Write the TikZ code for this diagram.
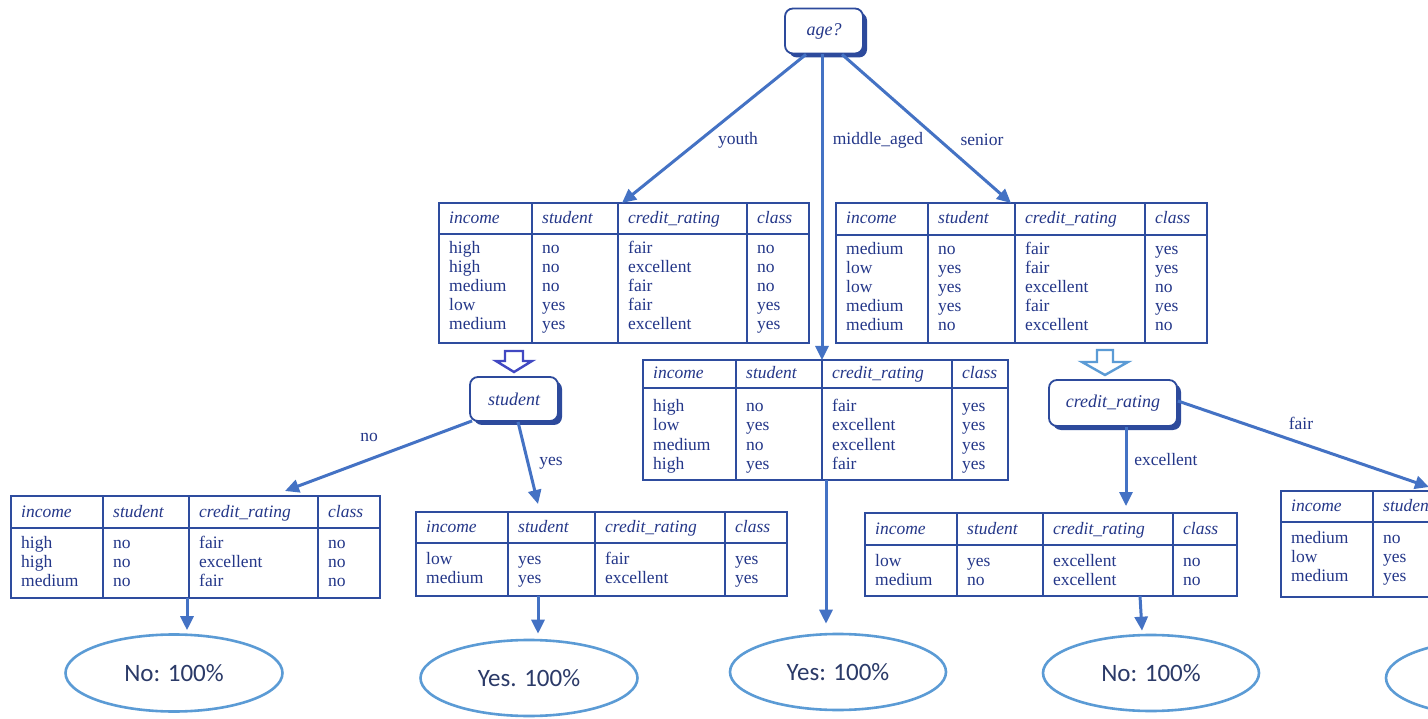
\documentclass[tikz,border=0pt]{standalone}
\usepackage{fontspec}
\setmainfont{Liberation Serif}
\newfontfamily\leaffont{Carlito}
\usetikzlibrary{calc,shadows,arrows.meta,shapes.geometric}

\definecolor{tabblue}{HTML}{2E4C9E}
\definecolor{tabtext}{HTML}{243789}
\definecolor{edgeblue}{HTML}{4472C4}
\definecolor{leafblue}{HTML}{5B9BD5}
\definecolor{leaftext}{HTML}{2B3A68}
\definecolor{shadowblue}{HTML}{2D4A9C}
\definecolor{hollowdark}{HTML}{4148C2}

\tikzset{
  tablebox/.style={draw=tabblue, line width=2.6pt, inner sep=0pt, outer sep=0pt},
  tableline/.style={draw=tabblue, line width=2pt},
  cell/.style={anchor=west, inner sep=0pt, text height=12pt, text depth=4pt,
    text=tabtext, font=\fontsize{17.5}{19}\selectfont},
  headcell/.style={cell, font=\fontsize{17.5}{19}\selectfont\itshape},
  test/.style={draw=shadowblue, line width=1.8pt, fill=white, rounded corners=8pt,
    drop shadow={shadow xshift=4pt, shadow yshift=-4pt, fill=shadowblue, opacity=1},
    text=tabtext, font=\fontsize{18}{20}\selectfont\itshape, inner sep=0pt},
  branch/.style={draw=edgeblue, line width=3pt, -{Triangle[length=14pt,width=13pt]}},
  branchlabel/.style={text=tabtext, font=\fontsize{17.5}{19}\selectfont, inner sep=0pt},
  leaf/.style={ellipse, draw=leafblue, line width=2.6pt, text=leaftext,
    font=\leaffont\fontsize{25}{28}\selectfont, inner sep=0pt},
  hollow/.style={line width=2.4pt, fill=white, line join=miter},
}

% name, x, y, width, height, header height, first row offset, column offsets, rows
\newcommand\datatable[9]{%
  \node[tablebox, minimum width=#4pt, minimum height=#5pt, anchor=north west] (#1) at (#2,#3) {};
  \draw[tableline] (#2,#3+#6) -- (#2+#4,#3+#6);
  \foreach \ca/\cb/\cc in {#8}{%
    \draw[tableline] (#2+\ca,#3) -- (#2+\ca,#3+#5);
    \draw[tableline] (#2+\cb,#3) -- (#2+\cb,#3+#5);
    \draw[tableline] (#2+\cc,#3) -- (#2+\cc,#3+#5);
    \node[headcell] (#1-h1) at (#2+10,#3+#6/2+1) {income};
    \node[headcell] (#1-h2) at (#2+\ca+10,#3+#6/2+1) {student};
    \node[headcell] (#1-h3) at (#2+\cb+10,#3+#6/2+1) {credit\_rating};
    \node[headcell] (#1-h4) at (#2+\cc+10,#3+#6/2+1) {class};
    \foreach \p/\q/\r/\s [count=\k] in {#9}{%
      \node[cell] (#1-r\k-a) at (#2+10,#3+#6+#7+19*\k-19) {\p};
      \node[cell] (#1-r\k-b) at (#2+\ca+10,#3+#6+#7+19*\k-19) {\q};
      \node[cell] (#1-r\k-c) at (#2+\cb+10,#3+#6+#7+19*\k-19) {\r};
      \node[cell] (#1-r\k-d) at (#2+\cc+10,#3+#6+#7+19*\k-19) {\s};
    }
  }
}

\begin{document}
\begin{tikzpicture}[x=1pt,y=-1pt]
\useasboundingbox (0,0) rectangle (1428,719);
\fill[white] (0,0) rectangle (1428,719);
\clip (0,0) rectangle (1428,719);

% test nodes
\node[test, minimum width=78pt, minimum height=45pt] (age) at (824,31) {age?};
\node[test, minimum width=88pt, minimum height=44pt] (student) at (514,399) {student};
\node[test, minimum width=128pt, minimum height=46pt] (credit) at (1113,403) {credit\_rating};

% partitions
\datatable{t1}{439}{203}{370}{140}{31}{16}{93/179/308}
  {high/no/fair/no, high/no/excellent/no, medium/no/fair/no, low/yes/fair/yes, medium/yes/excellent/yes}
\datatable{t2}{836}{203}{371}{140}{32}{16}{92/179/309}
  {medium/no/fair/yes, low/yes/fair/yes, low/yes/excellent/no, medium/yes/fair/yes, medium/no/excellent/no}
\datatable{t3}{643}{360}{365}{120}{28}{20}{93/179/309}
  {high/no/fair/yes, low/yes/excellent/yes, medium/no/excellent/yes, high/yes/fair/yes}
\datatable{t4}{11}{496}{369}{102}{32}{16}{92/178/307}
  {high/no/fair/no, high/no/excellent/no, medium/no/fair/no}
\datatable{t5}{416}{512}{371}{84}{31}{17}{92/179/309}
  {low/yes/fair/yes, medium/yes/excellent/yes}
\datatable{t6}{865}{513}{372}{83}{32}{17}{92/178/308}
  {low/yes/excellent/no, medium/no/excellent/no}
\datatable{t7}{1281}{491}{370}{106}{31}{17}{92/179/309}
  {medium/no/fair/yes, low/yes/fair/yes, medium/yes/fair/yes}

% branches of the root
\draw[branch] ($(age.south)+(-18,0)$) -- ($(t1.north west)+(183,0)$);
\draw[branch] ($(age.south)+(-2,0)$) -- ($(t3.north west)+(179,0)$);
\draw[branch] ($(age.south)+(18,0)$) -- ($(t2.north west)+(175,0)$);
\node[branchlabel] (lyouth) at (738,140) {youth};
\node[branchlabel] (lmiddle) at (878,140) {middle\_aged};
\node[branchlabel] (lsenior) at (982,140) {senior};

% hollow arrows to the next tests
\draw[hollow, draw=hollowdark] (505,351) -- (523,351) -- (523,361) -- (532,361) -- (514,372)
  -- (496,361) -- (505,361) -- cycle;
\draw[hollow, draw=leafblue] (1097,350) -- (1113,350) -- (1113,362) -- (1128,362) -- (1105,375)
  -- (1082,362) -- (1097,362) -- cycle;

% branches of student
\draw[branch] ($(student.south west)+(3,-1)$) -- ($(t4.north west)+(274,-5)$);
\draw[branch] ($(student.south)+(4,0)$) -- ($(t5.north west)+(122,-8)$);
\node[branchlabel] (lno) at (369,437) {no};
\node[branchlabel] (lyes) at (551,463) {yes};

% branches of credit_rating
\draw[branch] ($(credit.south)+(13,0)$) -- ($(t6.north west)+(261,-7)$);
\draw[branch] ($(credit.east)+(0,-2)$) -- ($(t7.north west)+(148,-4)$);
\node[branchlabel] (lexc) at (1166,460) {excellent};
\node[branchlabel] (lfair) at (1301,423) {fair};

% leaves
\node[leaf, minimum width=217pt, minimum height=77pt] (leafA) at (174,673) {No: 100\%};
\node[leaf, minimum width=217pt, minimum height=76pt] (leafB) at (529,678) {Yes. 100\%};
\node[leaf, minimum width=216pt, minimum height=76pt] (leafC) at (838,672) {Yes: 100\%};
\node[leaf, minimum width=216pt, minimum height=76pt] (leafD) at (1151,673) {No: 100\%};
\node[leaf, minimum width=216pt, minimum height=76pt] (leafE) at (1494,678) {};

\draw[branch] ($(t4.south west)+(176,0)$) -- ($(leafA.north)+(13,-3)$);
\draw[branch] ($(t5.south west)+(122,0)$) -- ($(leafB.north)+(9,-5)$);
\draw[branch] ($(t3.south west)+(183,0)$) -- ($(leafC.north)+(-12,-9)$);
\draw[branch] ($(t6.south west)+(275,0)$) -- ($(leafD.north)+(-9,-3)$);
\draw[branch] ($(t7.south west)+(186,0)$) -- ($(leafE.north)+(-21,-3)$);
\end{tikzpicture}
\end{document}
